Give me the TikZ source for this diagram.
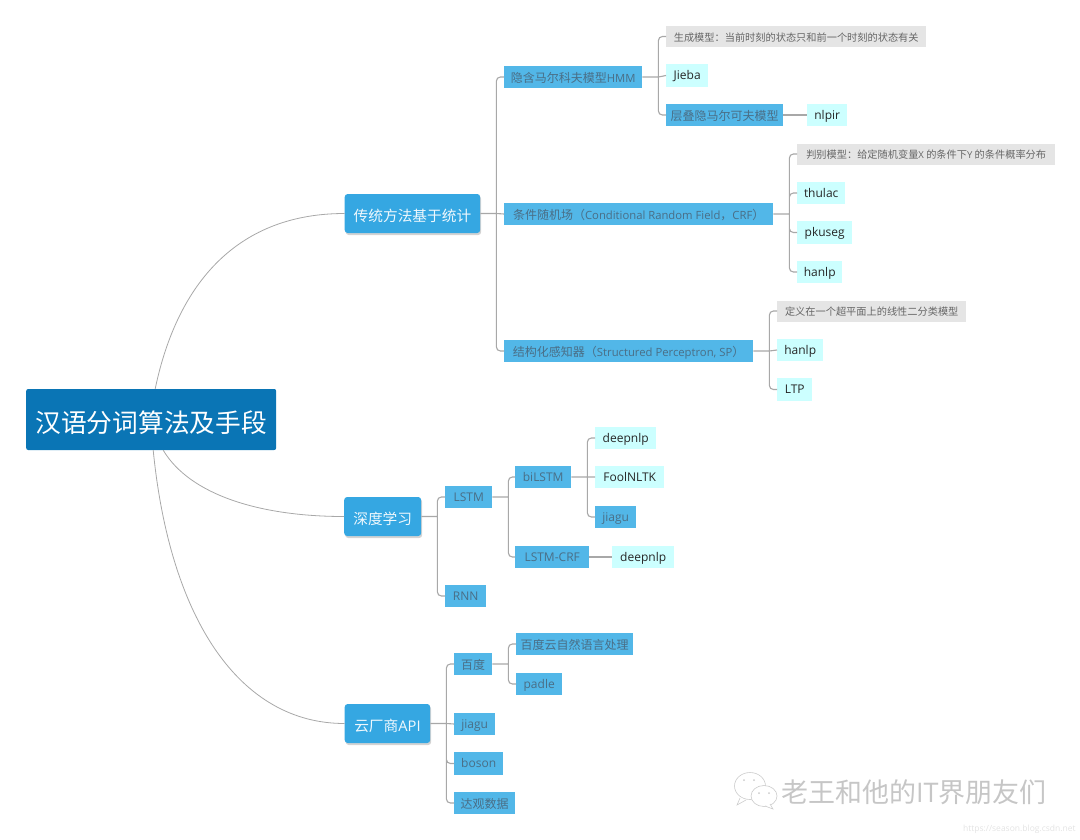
\documentclass[tikz,border=0pt]{standalone}
\usepackage{fontspec}
\setmainfont{Noto Sans CJK SC}
\newfontfamily\latinfont{Open Sans}
\newfontfamily\inlinefont[Scale=0.94]{Open Sans}
\newcommand{\lat}[1]{{\inlinefont #1}}
\usetikzlibrary{positioning,shadows}
\definecolor{rootblue}{HTML}{0A75B5}
\definecolor{mainblue}{HTML}{35A7E2}
\definecolor{subblue}{HTML}{52B7E8}
\definecolor{subtext}{HTML}{4A6E86}
\definecolor{leafcyan}{HTML}{CCFFFF}
\definecolor{notegray}{HTML}{E5E5E5}
\definecolor{linegray}{HTML}{A8A8A8}
\begin{document}
\begin{tikzpicture}[
  x=1pt, y=-1pt,
  every node/.style={anchor=west, align=center, inner sep=0pt},
  rootbox/.style={fill=rootblue, text=white, rounded corners=2pt, font=\fontsize{25.7}{28}\selectfont,
                  minimum width=250pt, minimum height=61pt, text height=27pt, text depth=1pt},
  mainbox/.style={fill=mainblue, text=white!92!mainblue, rounded corners=3pt, font=\fontsize{14.7}{17}\selectfont,
                  minimum height=39pt, text height=16.4pt, text depth=1pt,
                  drop shadow={opacity=.35, shadow xshift=1pt, shadow yshift=-2pt}},
  subbox/.style={fill=subblue, text=subtext, font=\fontsize{12}{14}\selectfont, minimum height=22.5pt,
                 text height=11pt, text depth=1pt},
  leafbox/.style={fill=leafcyan, text=black!85, font=\fontsize{12}{14}\latinfont, minimum height=22.5pt,
                  text height=9.8pt, text depth=1pt},
  notebox/.style={fill=notegray, text=black!60, font=\fontsize{10.2}{13}\selectfont, minimum height=21pt,
                  text height=10.6pt, text depth=1pt},
  latin/.style={font=\fontsize{12}{14}\latinfont, text height=9.8pt},
  curve/.style={draw=linegray, line width=.8pt},
  branch/.style={draw=linegray, line width=1.1pt, rounded corners=4pt},
  bus/.style={coordinate, right=16pt of #1}
]
\useasboundingbox (0,0) rectangle (1080,839);

% ====================== ROOT ======================
\node[rootbox] (root) at (26,419.5) {汉语分词算法及手段};

% ====================== TRADITIONAL ======================
\node[mainbox, minimum width=135.5pt] (trad) at (344.5,213.5) {传统方法基于统计};
\node[subbox, minimum width=138pt] (hmm) at (504,77) {隐含马尔科夫模型\lat{HMM}};
\node[subbox, minimum width=269pt] (crf) at (504,214) {条件随机场（\lat{Conditional Random Field}，\lat{CRF}）};
\node[subbox, minimum width=249pt] (sp) at (504,351) {结构化感知器（\lat{Structured Perceptron, SP}）};

\node[notebox, minimum width=260pt] (gen) at (666,36.5) {生成模型：当前时刻的状态只和前一个时刻的状态有关};
\node[leafbox, minimum width=42pt] (jieba) at (666,75.5) {Jieba};
\node[subbox, minimum width=117pt] (stack) at (666,115) {层叠隐马尔可夫模型};
\node[leafbox, minimum width=40pt] (nlpir) at (807,115) {nlpir};

\node[notebox, minimum width=258pt] (disc) at (797,154) {判别模型：给定随机变量\lat{X} 的条件下\lat{Y} 的条件概率分布};
\node[leafbox, minimum width=48pt] (thulac) at (797,193) {thulac};
\node[leafbox, minimum width=55pt] (pkuseg) at (797,232.5) {pkuseg};
\node[leafbox, minimum width=45pt] (hanlpa) at (797,272) {hanlp};

\node[notebox, minimum width=189pt] (plane) at (777,311) {定义在一个超平面上的线性二分类模型};
\node[leafbox, minimum width=46pt] (hanlpb) at (777,350) {hanlp};
\node[leafbox, minimum width=35pt] (ltp) at (777,389.5) {LTP};

% ====================== DEEP LEARNING ======================
\node[mainbox, minimum width=77pt] (deep) at (344,516.5) {深度学习};
\node[subbox, latin, minimum width=47pt] (lstm) at (445,497) {LSTM};
\node[subbox, latin, minimum width=41pt] (rnn) at (445,596) {RNN};
\node[subbox, latin, minimum width=56pt] (bilstm) at (515,477) {biLSTM};
\node[subbox, latin, minimum width=74pt] (lstmcrf) at (515,557) {LSTM-CRF};
\node[leafbox, minimum width=61pt] (deepa) at (595,438) {deepnlp};
\node[leafbox, minimum width=69pt] (fool) at (595,477) {FoolNLTK};
\node[subbox, latin, minimum width=41pt] (jiagua) at (595,517) {jiagu};
\node[leafbox, minimum width=62pt] (deepb) at (612,557) {deepnlp};

% ====================== CLOUD API ======================
\node[mainbox, minimum width=85.5pt] (cloud) at (344.5,723.5) {云厂商{\latinfont API}};
\node[subbox, minimum width=38pt] (baidu) at (454,664) {百度};
\node[subbox, latin, minimum width=41pt] (jiagub) at (454,724) {jiagu};
\node[subbox, latin, minimum width=49pt] (boson) at (454,763.5) {boson};
\node[subbox, minimum width=61pt] (daguan) at (454,803) {达观数据};
\node[subbox, minimum width=117pt] (nlp) at (516,644) {百度云自然语言处理};
\node[subbox, latin, minimum width=46pt] (padle) at (516,684) {padle};

% ====================== CONNECTORS ======================
\draw[curve] ([xshift=4pt]root.north) .. controls (178,280) and (240,213.5) .. (trad.west);
\draw[curve] ([xshift=12pt]root.south) .. controls (190,495) and (260,516.5) .. (deep.west);
\draw[curve] ([xshift=2pt]root.south) .. controls (170,620) and (240,723.5) .. (cloud.west);

\coordinate[bus=trad.east] (tradbus);
\coordinate[bus=hmm.east] (hmmbus);
\coordinate[bus=crf.east] (crfbus);
\coordinate[bus=sp.east] (spbus);
\coordinate[bus=deep.east] (deepbus);
\coordinate[bus=lstm.east] (lstmbus);
\coordinate[bus=bilstm.east] (bilstmbus);
\coordinate[bus=cloud.east] (cloudbus);
\coordinate[bus=baidu.east] (baidubus);

\draw[branch] (trad.east) -- (tradbus) (tradbus) |- (hmm.west) (tradbus) -- (crf.west) (tradbus) |- (sp.west);
\draw[branch] (hmm.east) -- (hmmbus) (hmmbus) |- (gen.west) (hmmbus) -- (jieba.west) (hmmbus) |- (stack.west);
\draw[branch] (stack.east) -- (nlpir.west);
\draw[branch] (crf.east) -- (crfbus) (crfbus) |- (disc.west) (crfbus) |- (thulac.west) (crfbus) |- (pkuseg.west) (crfbus) |- (hanlpa.west);
\draw[branch] (sp.east) -- (spbus) (spbus) |- (plane.west) (spbus) -- (hanlpb.west) (spbus) |- (ltp.west);
\draw[branch] (deep.east) -- (deepbus) (deepbus) |- (lstm.west) (deepbus) |- (rnn.west);
\draw[branch] (lstm.east) -- (lstmbus) (lstmbus) |- (bilstm.west) (lstmbus) |- (lstmcrf.west);
\draw[branch] (bilstm.east) -- (bilstmbus) (bilstmbus) |- (deepa.west) (bilstmbus) -- (fool.west) (bilstmbus) |- (jiagua.west);
\draw[branch] (lstmcrf.east) -- (deepb.west);
\draw[branch] (cloud.east) -- (cloudbus) (cloudbus) |- (baidu.west) (cloudbus) -- (jiagub.west) (cloudbus) |- (boson.west) (cloudbus) |- (daguan.west);
\draw[branch] (baidu.east) -- (baidubus) (baidubus) |- (nlp.west) (baidubus) |- (padle.west);

% ====================== WATERMARK ======================
\draw[gray!40, fill=white, line width=.6pt] (750,786) ellipse (15.5pt and 13.5pt);
\draw[gray!40, fill=white, line width=.6pt] (740,798) -- (737,805) -- (746,800);
\draw[gray!40, fill=white, line width=.6pt] (764,796) ellipse (13pt and 10.5pt);
\draw[gray!40, fill=white, line width=.6pt] (770,804) -- (773,809) -- (765,806);
\fill[gray!40] (744,780) circle (1pt) (754,780) circle (1pt) (759,793) circle (1pt) (769,793) circle (1pt);
\node[text=gray!45, font=\fontsize{27}{30}\selectfont, text height=24pt, text depth=1pt] (mark) at (781,791) {老王和他的{\latinfont IT}界朋友们};
\node[text=gray!22, font=\fontsize{8.5}{10}\latinfont] (url) at (963,829) {https://season.blog.csdn.net};
\end{tikzpicture}
\end{document}
